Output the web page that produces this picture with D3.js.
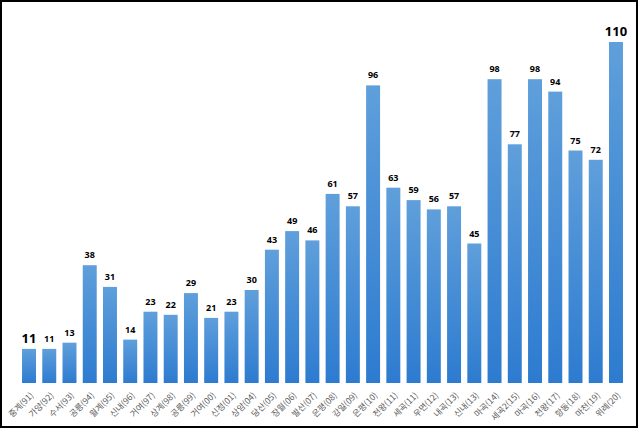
<!DOCTYPE html>
<html><head><meta charset="utf-8">
<script src="https://cdn.jsdelivr.net/npm/d3@7"></script>
<style>
html,body{margin:0;padding:0;background:#fff;}
svg{display:block;}
</style></head>
<body>
<script>
const categories = ["중계(91)","가양(92)","수서(93)","공릉(94)","월계(95)","신내(96)","거여(97)","상계(98)","공릉(99)","거여(00)","신정(01)","상암(04)","당산(05)","장월(06)","발산(07)","은평(08)","강일(09)","은평(10)","천왕(11)","세곡(11)","우면(12)","내곡(13)","신내(13)","마곡(14)","세곡2(15)","마곡(16)","천왕(17)","항동(18)","마천(19)","위례(20)"];
const values = [11,11,13,38,31,14,23,22,29,21,23,30,43,49,46,61,57,96,63,59,56,57,45,98,77,98,94,75,72,110];
const emphasized = [0, 29];

const W = 638, H = 428;
const svg = d3.select("body").append("svg").attr("width", W).attr("height", H);

const defs = svg.append("defs");
const grad = defs.append("linearGradient").attr("id","barGrad").attr("x1",0).attr("y1",0).attr("x2",0).attr("y2",1);
grad.append("stop").attr("offset","0%").attr("stop-color","#5f9fdb");
grad.append("stop").attr("offset","100%").attr("stop-color","#2d7bd0");

svg.append("rect").attr("x",1).attr("y",1).attr("width",W-2).attr("height",H-2)
  .attr("fill","#fff").attr("stroke","#000").attr("stroke-width",2);

const x = d3.scaleBand().domain(categories).range([19, 626]).paddingInner(0.31).paddingOuter(0.15);
const y = d3.scaleLinear().domain([0, 110]).range([383, 42]);

svg.append("g").selectAll("rect").data(values).join("rect")
  .attr("x", (d,i) => x(categories[i]))
  .attr("y", d => y(d))
  .attr("width", x.bandwidth())
  .attr("height", d => y(0) - y(d))
  .attr("fill", "url(#barGrad)");

svg.append("g").selectAll("text").data(values).join("text")
  .attr("x", (d,i) => x(categories[i]) + x.bandwidth()/2)
  .attr("y", (d,i) => y(d) - (emphasized.includes(i) ? 6 : 7))
  .attr("text-anchor","middle")
  .attr("font-family","'Open Sans','Noto Sans',sans-serif")
  .attr("font-weight","bold")
  .attr("font-size", (d,i) => emphasized.includes(i) ? 13 : 9)
  .attr("fill","#000")
  .text(d => d);

const xAxis = d3.axisBottom(x).tickSize(0).tickPadding(0);
const gx = svg.append("g").attr("transform", `translate(0, ${y(0)})`).call(xAxis);
gx.select(".domain").remove();
gx.selectAll("text")
  .attr("font-family","'Noto Sans CJK KR',sans-serif")
  .attr("font-size", 8.5)
  .attr("fill","#595959")
  .attr("text-anchor","end")
  .attr("dy", null)
  .attr("transform", "translate(5,13) rotate(-45)");
</script>
</body></html>
